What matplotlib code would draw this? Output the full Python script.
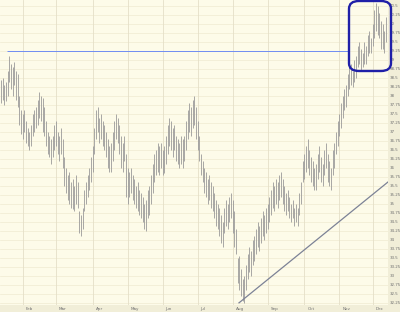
import matplotlib
matplotlib.use("Agg")
import matplotlib.pyplot as plt
from matplotlib.patches import FancyBboxPatch
import numpy as np

# daily high / low (one entry per trading day)
highs = [38.45, 38.5, 38.3, 38.4, 38.7, 39.1, 38.9, 38.8, 38.95, 38.7,
         38.6, 38.0, 37.6, 37.5, 37.6, 37.3, 37.1, 37.0, 37.2, 37.5,
         37.6, 37.7, 37.9, 38.1, 38.0, 37.95, 37.7, 37.3, 37.0, 36.9,
         36.8, 36.9, 37.2, 37.3, 37.0, 36.9, 37.1, 36.8, 36.3, 36.0,
         35.8, 35.9, 35.6, 35.7, 35.5, 35.8, 35.6, 34.8, 34.7, 34.9,
         35.4, 35.6, 35.8, 36.0, 36.3, 36.6, 37.1, 37.6, 37.7, 37.4,
         37.5, 37.3, 37.2, 37.0, 36.8, 36.6, 36.7, 37.0, 37.3, 37.5,
         37.4, 37.2, 36.9, 36.7, 36.9, 36.4, 36.0, 35.9, 36.0, 35.8,
         35.7, 35.5, 35.6, 35.4, 35.3, 35.2, 35.0, 35.1, 35.4, 35.5,
         35.8, 36.1, 36.4, 36.5, 36.7, 36.6, 36.7, 36.5, 36.6, 36.9,
         37.2, 37.4, 37.3, 37.1, 37.2, 36.9, 36.8, 36.7, 36.9, 36.8,
         36.9, 37.3, 37.6, 37.8, 37.7, 37.9, 38.0, 37.7, 37.3, 36.9,
         36.4, 36.2, 36.0, 35.9, 35.7, 35.8, 35.6, 35.5, 35.3, 35.1,
         35.0, 34.9, 34.7, 34.5, 34.9, 35.1, 35.0, 35.2, 35.3, 35.1,
         34.8, 34.3, 33.5, 33.55, 33.2, 32.9, 33.0, 33.3, 33.6, 33.8,
         33.7, 34.0, 34.1, 34.3, 34.5, 34.4, 34.6, 34.8, 34.7, 34.9,
         35.0, 35.2, 35.4, 35.6, 35.5, 35.7, 35.6, 35.8, 35.9, 35.7,
         35.5, 35.3, 35.4, 35.2, 35.0, 35.1, 34.9, 35.0, 34.9, 35.3,
         35.6, 36.2, 36.4, 36.6, 36.8, 36.5, 36.3, 36.2, 36.0, 36.1,
         36.4, 36.6, 36.3, 36.1, 36.5, 36.7, 36.4, 36.2, 36.0, 36.5,
         36.7, 37.0, 37.3, 37.5, 37.8, 38.0, 38.2, 38.3, 38.6, 38.8,
         38.9, 38.7, 39.0, 39.1, 39.4, 39.5, 39.3, 39.2, 39.5, 39.4,
         39.7, 39.8, 39.6, 40.0, 40.4, 40.6, 40.5, 40.3, 40.1, 40.0,
         39.8, 40.2, 40.5]
lows = [37.8, 37.9, 37.75, 37.85, 38.0, 38.4, 38.2, 38.0, 38.3, 37.9,
        37.7, 37.2, 36.95, 36.8, 37.0, 36.7, 36.6, 36.5, 36.6, 36.9,
        37.0, 37.1, 37.2, 37.4, 37.3, 37.0, 36.9, 36.6, 36.4, 36.3,
        36.1, 36.3, 36.5, 36.6, 36.4, 36.2, 36.4, 36.0, 35.5, 35.3,
        35.1, 35.0, 34.9, 34.85, 34.8, 35.0, 34.9, 34.2, 34.1, 34.3,
        34.8, 35.0, 35.2, 35.4, 35.6, 35.9, 36.4, 36.8, 37.0, 36.7,
        36.8, 36.6, 36.5, 36.3, 36.0, 35.9, 35.9, 36.2, 36.5, 36.8,
        36.7, 36.4, 36.0, 35.9, 36.2, 35.2, 35.0, 35.2, 35.3, 35.1,
        35.0, 34.9, 34.8, 34.7, 34.6, 34.5, 34.3, 34.25, 34.6, 34.7,
        35.0, 35.3, 35.6, 35.8, 35.9, 35.8, 36.0, 35.8, 35.85, 36.1,
        36.4, 36.6, 36.5, 36.3, 36.5, 36.2, 36.1, 36.0, 36.1, 36.0,
        36.2, 36.5, 36.8, 37.0, 36.9, 37.1, 37.2, 36.8, 36.5, 36.2,
        35.8, 35.6, 35.3, 35.2, 35.0, 35.1, 34.9, 34.8, 34.6, 34.4,
        34.3, 34.1, 33.9, 33.8, 34.2, 34.4, 34.3, 34.5, 34.6, 34.2,
        33.8, 33.6, 32.8, 32.6, 32.45, 32.3, 32.25, 32.6, 32.9, 33.1,
        33.0, 33.3, 33.4, 33.6, 33.8, 33.7, 33.9, 34.1, 34.0, 34.2,
        34.3, 34.5, 34.7, 34.9, 34.8, 35.0, 34.9, 35.1, 35.2, 35.0,
        34.8, 34.7, 34.8, 34.6, 34.5, 34.6, 34.4, 34.5, 34.4, 34.7,
        35.0, 35.6, 35.7, 35.9, 36.0, 35.8, 35.6, 35.5, 35.4, 35.4,
        35.7, 35.9, 35.6, 35.5, 35.8, 36.0, 35.6, 35.5, 35.4, 35.8,
        36.0, 36.4, 36.6, 36.9, 37.1, 37.4, 37.6, 37.7, 38.0, 38.2,
        38.3, 38.25, 38.4, 38.5, 38.8, 38.9, 38.7, 38.8, 38.9, 38.9,
        39.1, 39.2, 39.2, 39.4, 39.6, 39.8, 39.7, 39.6, 39.3, 39.3,
        39.2, 39.5, 39.8]

months = ["Feb", "Mar", "Apr", "May", "Jun", "Jul", "Aug", "Sep", "Oct", "Nov", "Dec"]
month_start = [13, 33, 55, 76, 97, 118, 139, 160, 182, 203, 223]

resistance = 39.25
trend_start = (142.8, 32.25)
trend_end = (232.2, 35.61)
yticks = np.arange(32.25, 40.51, 0.25)

W, H = 400, 312
fig = plt.figure(figsize=(W / 100, H / 100), dpi=100)
fig.patch.set_facecolor("#f1eed8")

ax = fig.add_axes([0, 7 / H, 388 / W, 305 / H])
ax.set_facecolor("#fdfbe9")

idx = np.arange(len(highs))
ax.vlines(idx, lows, highs, color="#9a9a9a", linewidth=0.6, zorder=3)

for y in yticks:
    ax.axhline(y, color="#efebd2", linewidth=0.5, zorder=1)
for m in month_start:
    ax.axvline(m, color="#e4dfc8", linewidth=0.6, zorder=1)

# resistance line, kept out of the boxed area
ax.hlines(resistance, 3.8, 208.2, color="#6f8cf2", linewidth=0.7, zorder=4)
ax.plot([trend_start[0], trend_end[0]], [trend_start[1], trend_end[1]],
        color="#7c8296", linewidth=0.9, zorder=4)

ax.set_xlim(-0.6, 232.2)
ax.set_ylim(32.19, 40.67)
ax.set_xticks([])
ax.set_yticks([])
for s in ax.spines.values():
    s.set_visible(False)

# month labels along the bottom strip
for m, name in zip(month_start, months):
    x_fig = (1 + m * 1.667 + 3) / W
    fig.text(x_fig, 1.0 / H, name, fontsize=3.0, color="#707070", ha="left", va="bottom")

# price labels in the right strip
for y in yticks:
    y_fig = ax.transData.transform((0, y))[1] / H
    fig.text(389.5 / W, y_fig, f"{y:g}", fontsize=2.9, color="#707070", ha="left", va="center")

box = FancyBboxPatch((349 / W, (H - 71) / H), 42 / W, 70 / H,
                     boxstyle="round,pad=0,rounding_size=0.025",
                     transform=fig.transFigure, fill=False,
                     edgecolor="#1f1fa8", linewidth=1.7, zorder=10)
fig.patches.append(box)

fig.savefig("out.png", dpi=100)
